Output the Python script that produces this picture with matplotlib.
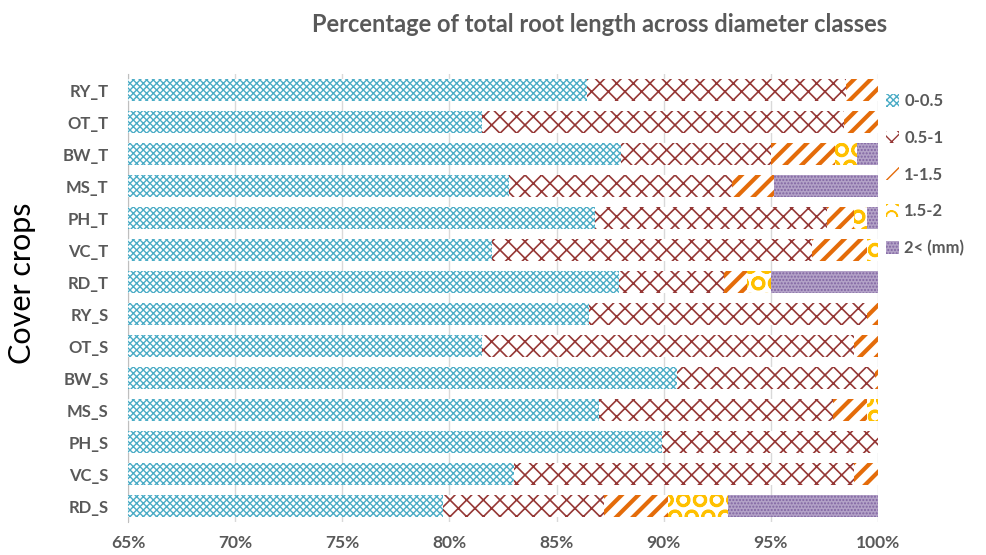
import matplotlib
matplotlib.use("Agg")
import matplotlib.pyplot as plt
import numpy as np
from matplotlib.ticker import FuncFormatter

crops = ["RY_T", "OT_T", "BW_T", "MS_T", "PH_T", "VC_T", "RD_T",
         "RY_S", "OT_S", "BW_S", "MS_S", "PH_S", "VC_S", "RD_S"]
classes = ["0-0.5", "0.5-1", "1-1.5", "1.5-2", "2< (mm)"]
c_0_05 = [86.4, 81.5, 88.0, 82.8, 86.8, 82.0, 87.9, 86.5, 81.5, 90.6, 87.0, 89.9, 83.0, 79.7]
c_05_1 = [12.1, 16.9, 7.0, 10.4, 10.8, 14.9, 4.9, 13.0, 17.4, 9.25, 10.9, 10.1, 15.9, 7.5]
c_1_15 = [1.5, 1.6, 3.0, 1.95, 1.3, 2.6, 1.1, 0.5, 1.1, 0.15, 1.6, 0.0, 1.1, 3.0]
c_15_2 = [0.0, 0.0, 1.0, 0.0, 0.6, 0.5, 1.1, 0.0, 0.0, 0.0, 0.5, 0.0, 0.0, 2.8]
c_2p = [0.0, 0.0, 1.0, 4.85, 0.5, 0.0, 5.0, 0.0, 0.0, 0.0, 0.0, 0.0, 0.0, 7.0]
xticks = [65, 70, 75, 80, 85, 90, 95, 100]

series = [c_0_05, c_05_1, c_1_15, c_15_2, c_2p]
styles = [
    dict(fc="white", ec="#4BACC6", hatch="xxxxx", hlw=1.0),
    dict(fc="white", ec="#953735", hatch="xx", hlw=1.2),
    dict(fc="white", ec="#E46C0A", hatch="//", hlw=3.0),
    dict(fc="white", ec="#FFC000", hatch="O", hlw=2.0),
    dict(fc="#B3A2C7", ec="#8064A2", hatch=".....", hlw=1.0),
]

FONT = "Lato"
fig = plt.figure(figsize=(9.87, 5.55), dpi=100)
ax = fig.add_axes([128/987, 1-522/555, 750/987, 448/555])

y = np.arange(len(crops))
left = np.zeros(len(crops))
handles = []
for vals, st, lab in zip(series, styles, classes):
    v = np.array(vals)
    with plt.rc_context({"hatch.linewidth": st["hlw"]}):
        b = ax.barh(y, v, left=left, height=0.7, facecolor=st["fc"], edgecolor=st["ec"],
                    hatch=st["hatch"], linewidth=0, label=lab, zorder=3)
    for p in b.patches:
        try:
            p.set_hatch_linewidth(st["hlw"])
        except Exception:
            pass
    handles.append(b)
    left = left + v

ax.set_xlim(65, 100)
ax.set_ylim(len(crops) - 0.5, -0.5)
ax.set_yticks(y)
ax.set_yticklabels(crops, fontsize=12, fontweight="bold", color="#595959", family=FONT)
ax.set_xticks(xticks)
ax.xaxis.set_major_formatter(FuncFormatter(lambda v, p: f"{int(round(v))}%"))
for t in ax.get_xticklabels():
    t.set_fontsize(12.5); t.set_fontweight("bold"); t.set_color("#595959"); t.set_family(FONT)
ax.tick_params(axis="y", length=0, pad=14)
ax.tick_params(axis="x", length=0, pad=9)
ax.grid(axis="x", color="#D9D9D9", linewidth=1, zorder=0)
for s in ["top", "right", "bottom"]:
    ax.spines[s].set_visible(False)
ax.spines["left"].set_color("#BFBFBF")

fig.text(22/987, 1-283/555, "Cover crops", rotation=90, ha="center", va="center",
         fontsize=22, family=FONT, color="black")
fig.text(0.607, 1-25/555, "Percentage of total root length across diameter classes",
         ha="center", va="center", fontsize=17, fontweight="bold", color="#595959", family=FONT)

leg = fig.legend(handles=handles, labels=classes, loc="upper left", bbox_to_anchor=(871/987, 1-78/555),
                 frameon=False, handlelength=0.8, handleheight=0.8, handletextpad=0.3,
                 labelspacing=1.25, prop=dict(family=FONT, size=12, weight="bold"))
for t in leg.get_texts():
    t.set_color("#595959")

fig.savefig("out.png", dpi=100)
